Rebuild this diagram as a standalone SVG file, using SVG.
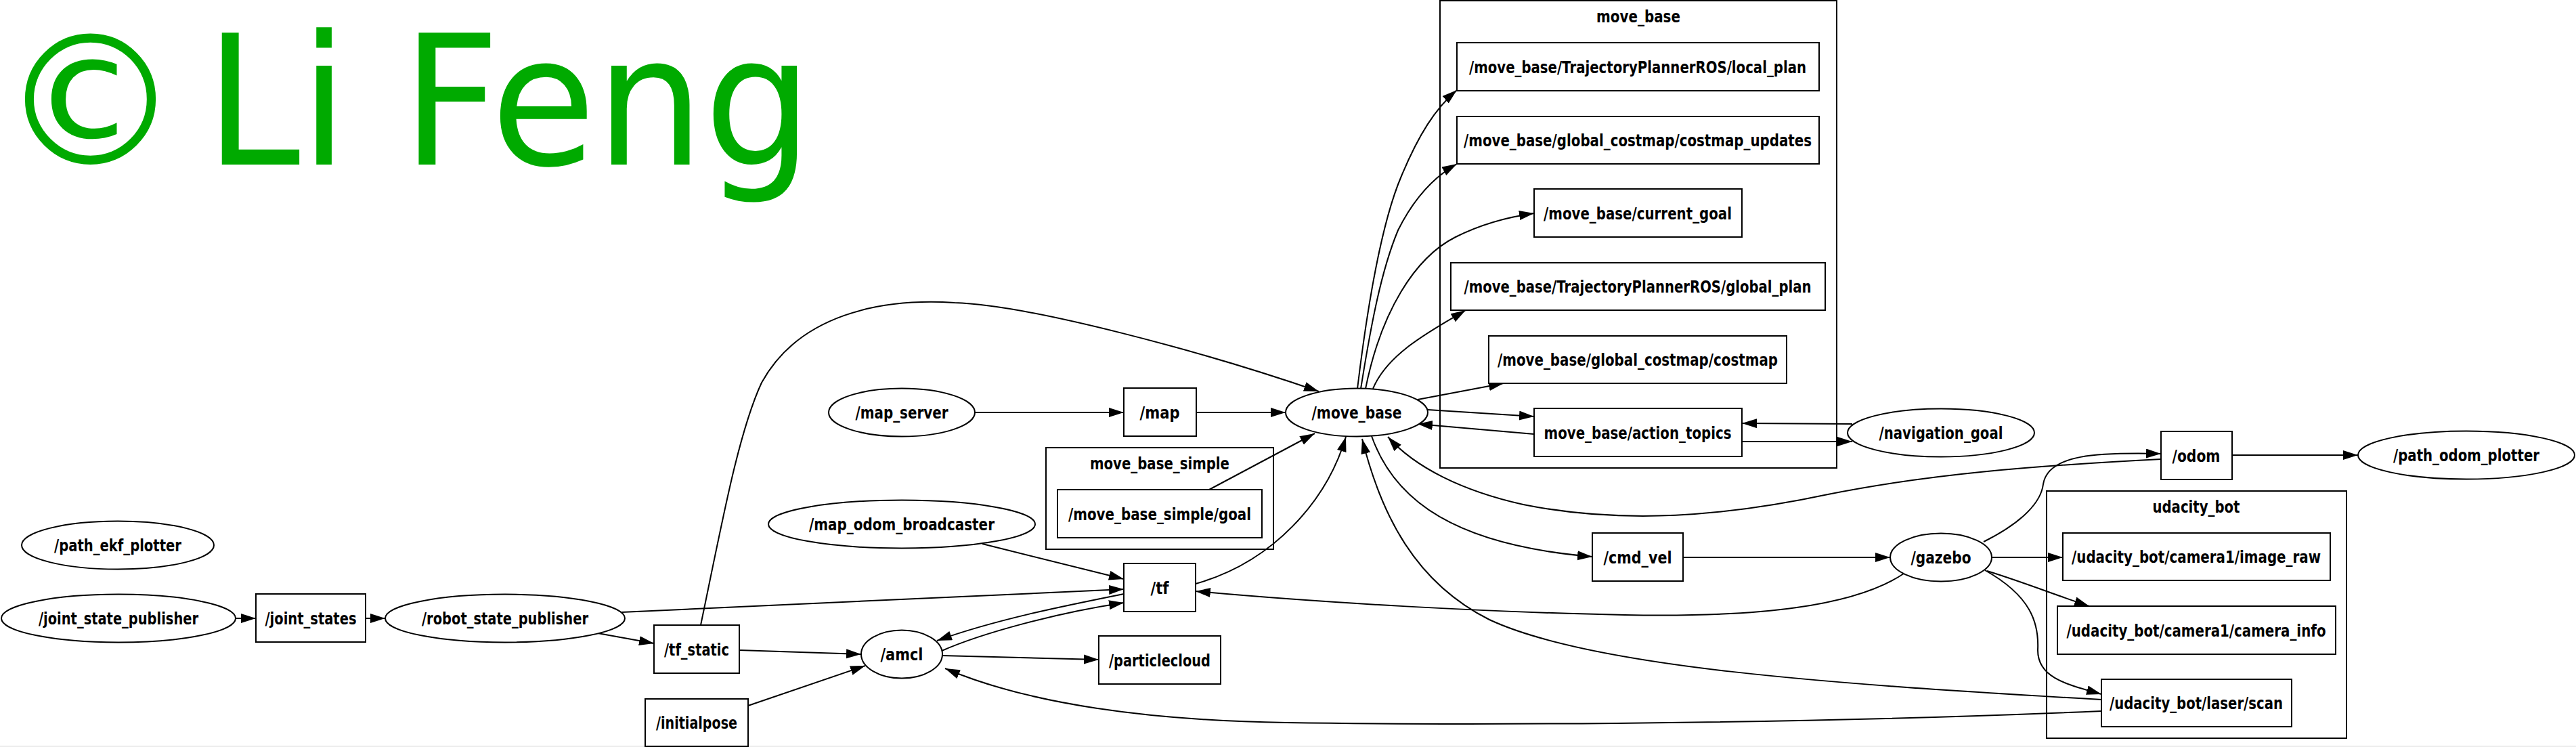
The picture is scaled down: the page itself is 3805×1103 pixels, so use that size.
<svg xmlns="http://www.w3.org/2000/svg" width="3805" height="1103" viewBox="0 0 3805 1103">
<defs>
<style>
.n{font-family:"DejaVu Sans","Liberation Sans",sans-serif;font-weight:bold;font-size:25px;text-anchor:middle;fill:#000}
.t{font-family:"DejaVu Sans","Liberation Sans",sans-serif;font-size:267px;fill:#00aa00}
.s{fill:#fff;stroke:#000;stroke-width:2}
.c{fill:none;stroke:#000;stroke-width:2}
.e path{fill:none;stroke:#000;stroke-width:2;marker-end:url(#ah)}
</style>
<marker id="ah" markerUnits="userSpaceOnUse" markerWidth="24" markerHeight="16" refX="22" refY="7" orient="auto" viewBox="0 0 24 16"><path d="M0,0 L22,7 L0,14 z" fill="#000"/></marker>
</defs>
<rect x="0" y="0" width="3805" height="1103" fill="#fff"/>
<rect x="0" y="1101" width="3805" height="2" fill="#ececec"/>
<g id="title">
<text class="t" x="0" y="243">©</text>
<text class="t" x="303" y="243" textLength="897" lengthAdjust="spacingAndGlyphs">Li Feng</text>
</g>

<g id="cluster_move_base"><rect class="c" x="2127" y="1" width="586" height="690"/><text class="n" x="2420" y="33" textLength="124" lengthAdjust="spacingAndGlyphs">move_base</text></g>
<g id="cluster_move_base_simple"><rect class="c" x="1545" y="661" width="336" height="150"/><text class="n" x="1713" y="693" textLength="206" lengthAdjust="spacingAndGlyphs">move_base_simple</text></g>
<g id="cluster_udacity_bot"><rect class="c" x="3023" y="725" width="443" height="365"/><text class="n" x="3244" y="757" textLength="129" lengthAdjust="spacingAndGlyphs">udacity_bot</text></g>

<g class="e" id="connectors">
<path d="M348,913 L378,913"/>
<path d="M540,913 L569,913"/>
<path d="M918,904 C1150,893 1400,882 1660,870"/>
<path d="M883,935 L966,950"/>
<path d="M1092,960 L1272,966"/>
<path d="M1105,1042 L1278,983"/>
<path d="M1451,803 L1660,855"/>
<path d="M1391,961 C1450,935 1560,905 1660,890"/>
<path d="M1660,877 C1570,895 1470,915 1384,946"/>
<path d="M1391,968 L1623,974"/>
<path d="M2812,847 C2740,895 2600,912 2400,908 C2200,904 1950,890 1766,873"/>
<path d="M1766,862 C1880,830 1960,740 1988,645"/>
<path d="M3104,1050 C2600,1072 2100,1070 1900,1067 C1700,1064 1520,1040 1396,987"/>
<path d="M3104,1033 C2700,1010 2350,985 2200,915 C2090,860 2040,760 2012,648"/>
<path d="M3192,678 C3000,688 2850,700 2700,730 C2550,762 2400,775 2250,745 C2160,725 2090,690 2050,645"/>
<path d="M1440,609 L1660,609"/>
<path d="M1767,609 L1899,609"/>
<path d="M1786,723 L1942,640"/>
<path d="M2005,574 C2020,450 2040,330 2070,260 C2095,200 2120,160 2152,133"/>
<path d="M2010,574 C2025,480 2040,400 2065,340 C2090,290 2120,260 2152,242"/>
<path d="M2017,574 C2040,460 2090,380 2150,350 C2190,330 2230,320 2266,315"/>
<path d="M2028,574 C2050,520 2120,485 2165,458"/>
<path d="M2094,590 L2221,566"/>
<path d="M2109,605 L2266,615"/>
<path d="M2266,641 L2094,626"/>
<path d="M2736,626 L2573,625"/>
<path d="M2573,652 L2736,652"/>
<path d="M2026,644 C2060,740 2150,805 2352,822"/>
<path d="M2486,823 L2792,823"/>
<path d="M2930,800 C2990,770 3015,740 3018,715 C3025,670 3100,668 3192,670"/>
<path d="M3297,672 L3483,672"/>
<path d="M2943,823 L3047,823"/>
<path d="M2935,843 C2990,860 3040,880 3086,895"/>
<path d="M2932,842 C3000,880 3012,920 3010,960 C3010,1000 3050,1010 3104,1025"/>
<path d="M1035,923 C1065,780 1090,640 1125,565 C1180,465 1300,440 1410,447 C1520,450 1780,520 1948,578"/>
</g>

<g id="path_ekf_plotter"><ellipse class="s" cx="174" cy="805" rx="142" ry="35.5"/><text class="n" x="174" y="814" textLength="188" lengthAdjust="spacingAndGlyphs">/path_ekf_plotter</text></g>
<g id="joint_state_publisher"><ellipse class="s" cx="175" cy="913" rx="173" ry="35.5"/><text class="n" x="175" y="922" textLength="236" lengthAdjust="spacingAndGlyphs">/joint_state_publisher</text></g>
<g id="joint_states"><rect class="s" x="378" y="877" width="162" height="71"/><text class="n" x="459" y="922" textLength="135" lengthAdjust="spacingAndGlyphs">/joint_states</text></g>
<g id="robot_state_publisher"><ellipse class="s" cx="746" cy="913" rx="177" ry="35.5"/><text class="n" x="746" y="922" textLength="246" lengthAdjust="spacingAndGlyphs">/robot_state_publisher</text></g>
<g id="tf_static"><rect class="s" x="966" y="923" width="126" height="71"/><text class="n" x="1029" y="968" textLength="96" lengthAdjust="spacingAndGlyphs">/tf_static</text></g>
<g id="initialpose"><rect class="s" x="953" y="1032" width="152" height="70"/><text class="n" x="1029" y="1076" textLength="120" lengthAdjust="spacingAndGlyphs">/initialpose</text></g>
<g id="map_server"><ellipse class="s" cx="1332" cy="609" rx="108" ry="35.5"/><text class="n" x="1332" y="618" textLength="137" lengthAdjust="spacingAndGlyphs">/map_server</text></g>
<g id="map_odom_broadcaster"><ellipse class="s" cx="1332" cy="774" rx="197" ry="35.5"/><text class="n" x="1332" y="783" textLength="274" lengthAdjust="spacingAndGlyphs">/map_odom_broadcaster</text></g>
<g id="amcl"><ellipse class="s" cx="1332" cy="966" rx="60" ry="35.5"/><text class="n" x="1332" y="975" textLength="63" lengthAdjust="spacingAndGlyphs">/amcl</text></g>
<g id="map"><rect class="s" x="1660" y="573" width="107" height="71"/><text class="n" x="1713" y="618" textLength="59" lengthAdjust="spacingAndGlyphs">/map</text></g>
<g id="move_base_simple_goal"><rect class="s" x="1562" y="723" width="302" height="71"/><text class="n" x="1713" y="768" textLength="270" lengthAdjust="spacingAndGlyphs">/move_base_simple/goal</text></g>
<g id="tf"><rect class="s" x="1660" y="832" width="106" height="71"/><text class="n" x="1713" y="877" textLength="27" lengthAdjust="spacingAndGlyphs">/tf</text></g>
<g id="particlecloud"><rect class="s" x="1623" y="939" width="180" height="71"/><text class="n" x="1713" y="984" textLength="150" lengthAdjust="spacingAndGlyphs">/particlecloud</text></g>
<g id="move_base"><ellipse class="s" cx="2004" cy="609" rx="105" ry="35.5"/><text class="n" x="2004" y="618" textLength="133" lengthAdjust="spacingAndGlyphs">/move_base</text></g>
<g id="local_plan"><rect class="s" x="2152" y="63" width="535" height="71"/><text class="n" x="2419" y="108" textLength="498" lengthAdjust="spacingAndGlyphs">/move_base/TrajectoryPlannerROS/local_plan</text></g>
<g id="costmap_updates"><rect class="s" x="2152" y="172" width="535" height="70"/><text class="n" x="2419" y="216" textLength="514" lengthAdjust="spacingAndGlyphs">/move_base/global_costmap/costmap_updates</text></g>
<g id="current_goal"><rect class="s" x="2266" y="279" width="307" height="71"/><text class="n" x="2419" y="324" textLength="278" lengthAdjust="spacingAndGlyphs">/move_base/current_goal</text></g>
<g id="global_plan"><rect class="s" x="2143" y="388" width="553" height="70"/><text class="n" x="2419" y="432" textLength="513" lengthAdjust="spacingAndGlyphs">/move_base/TrajectoryPlannerROS/global_plan</text></g>
<g id="global_costmap"><rect class="s" x="2199" y="496" width="440" height="70"/><text class="n" x="2419" y="540" textLength="414" lengthAdjust="spacingAndGlyphs">/move_base/global_costmap/costmap</text></g>
<g id="action_topics"><rect class="s" x="2266" y="603" width="307" height="71"/><text class="n" x="2419" y="648" textLength="277" lengthAdjust="spacingAndGlyphs">move_base/action_topics</text></g>
<g id="navigation_goal"><ellipse class="s" cx="2867" cy="639" rx="138" ry="35.5"/><text class="n" x="2867" y="648" textLength="183" lengthAdjust="spacingAndGlyphs">/navigation_goal</text></g>
<g id="cmd_vel"><rect class="s" x="2352" y="787" width="134" height="71"/><text class="n" x="2419" y="832" textLength="101" lengthAdjust="spacingAndGlyphs">/cmd_vel</text></g>
<g id="gazebo"><ellipse class="s" cx="2867" cy="823" rx="75" ry="35.5"/><text class="n" x="2867" y="832" textLength="89" lengthAdjust="spacingAndGlyphs">/gazebo</text></g>
<g id="odom"><rect class="s" x="3192" y="637" width="105" height="71"/><text class="n" x="3244" y="682" textLength="71" lengthAdjust="spacingAndGlyphs">/odom</text></g>
<g id="path_odom_plotter"><ellipse class="s" cx="3643" cy="672" rx="160" ry="35.5"/><text class="n" x="3643" y="681" textLength="216" lengthAdjust="spacingAndGlyphs">/path_odom_plotter</text></g>
<g id="image_raw"><rect class="s" x="3047" y="787" width="395" height="70"/><text class="n" x="3244" y="831" textLength="368" lengthAdjust="spacingAndGlyphs">/udacity_bot/camera1/image_raw</text></g>
<g id="camera_info"><rect class="s" x="3039" y="895" width="411" height="71"/><text class="n" x="3244" y="940" textLength="383" lengthAdjust="spacingAndGlyphs">/udacity_bot/camera1/camera_info</text></g>
<g id="laser_scan"><rect class="s" x="3104" y="1003" width="281" height="70"/><text class="n" x="3244" y="1047" textLength="256" lengthAdjust="spacingAndGlyphs">/udacity_bot/laser/scan</text></g>
</svg>
